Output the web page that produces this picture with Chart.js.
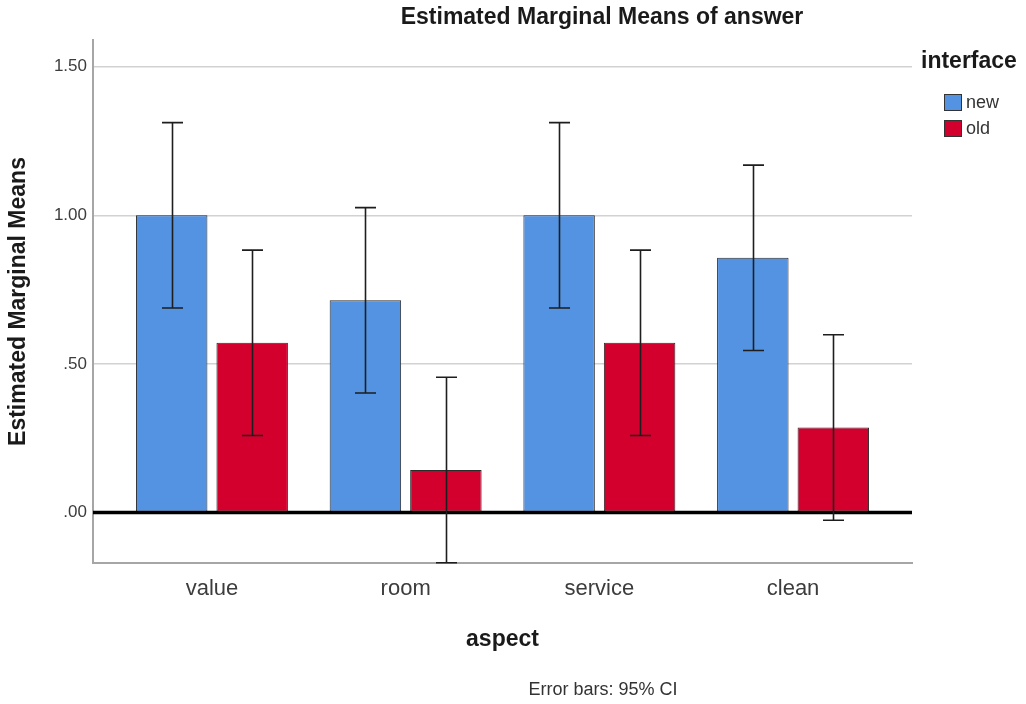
<!DOCTYPE html>
<html>
<head>
<meta charset="utf-8">
<script src="https://cdn.jsdelivr.net/npm/chart.js@4/dist/chart.umd.min.js"></script>
<style>
  html, body { margin: 0; padding: 0; background: #ffffff; }
  #wrap { position: relative; width: 1026px; height: 704px; }
</style>
</head>
<body>
<div id="wrap"><canvas id="chart" width="1026" height="704"></canvas></div>
<script>
// Estimated marginal means of "answer" by aspect and interface, with 95% CIs
const categories = ['value', 'room', 'service', 'clean'];
const seriesNames = ['new', 'old'];
const newMeans = [1.000, 0.714, 1.000, 0.857];
const oldMeans = [0.571, 0.143, 0.571, 0.286];
const newLower = [0.688, 0.402, 0.688, 0.545];
const newUpper = [1.312, 1.026, 1.312, 1.169];
const oldLower = [0.259, -0.169, 0.259, -0.026];
const oldUpper = [0.883, 0.455, 0.883, 0.598];
const yTickValues = [0, 0.5, 1.0, 1.5];

const FONT = '"Liberation Sans", Arial, Helvetica, sans-serif';
const BLUE = '#5393e2';
const RED = '#d3002e';

const toPoints = arr => arr.map((v, i) => ({ x: i, y: v }));
const fmtTick = v => {
  const s = Number(v).toFixed(2);
  return s.startsWith('0') ? s.slice(1) : s;
};

// zero line and confidence-interval whiskers drawn over the bars
const errorBars = {
  id: 'errorBars',
  afterDatasetsDraw(chart) {
    const ctx = chart.ctx;
    const ys = chart.scales.y;
    const area = chart.chartArea;
    ctx.save();
    const y0 = ys.getPixelForValue(0);
    ctx.strokeStyle = '#000000';
    ctx.lineWidth = 3.5;
    ctx.beginPath();
    ctx.moveTo(area.left, y0);
    ctx.lineTo(area.right, y0);
    ctx.stroke();

    const bounds = [[newLower, newUpper], [oldLower, oldUpper]];
    ctx.strokeStyle = '#1e1e1e';
    ctx.lineWidth = 1.6;
    bounds.forEach(([lo, hi], di) => {
      chart.getDatasetMeta(di).data.forEach((bar, i) => {
        const x = Math.round(bar.x) + 0.5;
        const yl = ys.getPixelForValue(lo[i]);
        const yh = ys.getPixelForValue(hi[i]);
        const cap = 10.5;
        ctx.beginPath();
        ctx.moveTo(x, yl); ctx.lineTo(x, yh);
        ctx.moveTo(x - cap, yh); ctx.lineTo(x + cap, yh);
        ctx.moveTo(x - cap, yl); ctx.lineTo(x + cap, yl);
        ctx.stroke();
      });
    });
    ctx.restore();
  }
};

// heading, legend and footnote
const annotations = {
  id: 'annotations',
  afterDraw(chart) {
    const ctx = chart.ctx;
    ctx.save();
    ctx.fillStyle = '#1a1a1a';
    ctx.textBaseline = 'middle';
    ctx.textAlign = 'center';
    ctx.font = 'bold 23px ' + FONT;
    ctx.fillText('Estimated Marginal Means of answer', 602, 18);

    ctx.font = '18px ' + FONT;
    ctx.fillStyle = '#333333';
    ctx.fillText('Error bars: 95% CI', 603, 690);

    ctx.textAlign = 'left';
    ctx.fillStyle = '#1a1a1a';
    ctx.font = 'bold 23px ' + FONT;
    ctx.fillText('interface', 921, 62);

    const colors = [BLUE, RED];
    const boxY = [94, 120];
    seriesNames.forEach((name, i) => {
      ctx.fillStyle = colors[i];
      ctx.fillRect(944, boxY[i], 18, 17);
      ctx.strokeStyle = '#333333';
      ctx.lineWidth = 1;
      ctx.strokeRect(944.5, boxY[i] + 0.5, 17, 16);
      ctx.fillStyle = '#333333';
      ctx.font = '18px ' + FONT;
      ctx.fillText(name, 966, boxY[i] + 9);
    });
    ctx.restore();
  }
};

new Chart(document.getElementById('chart'), {
  type: 'bar',
  data: {
    datasets: [
      {
        label: seriesNames[0],
        data: toPoints(newMeans),
        backgroundColor: BLUE,
        borderColor: '#2b2b2b',
        borderWidth: 1,
        borderSkipped: false
      },
      {
        label: seriesNames[1],
        data: toPoints(oldMeans),
        backgroundColor: RED,
        borderColor: '#2b2b2b',
        borderWidth: 1,
        borderSkipped: false
      }
    ]
  },
  options: {
    responsive: false,
    animation: false,
    devicePixelRatio: 1,
    categoryPercentage: 0.831,
    barPercentage: 0.888,
    layout: { padding: { left: 0, right: 114, top: 40, bottom: 0 } },
    plugins: {
      legend: { display: false },
      title: { display: false },
      tooltip: { enabled: false }
    },
    scales: {
      x: {
        type: 'linear',
        min: -0.614,
        max: 3.614,
        offset: false,
        afterBuildTicks: s => { s.ticks = categories.map((_, i) => ({ value: i })); },
        afterFit: s => { s.height = 141; },
        grid: { display: false, drawTicks: false, offset: false },
        border: { display: true, color: '#a6a6a6', width: 2 },
        ticks: {
          autoSkip: false,
          maxRotation: 0,
          padding: 13,
          color: '#3c3c3c',
          font: { family: FONT, size: 22 },
          callback: v => categories[v] ?? ''
        },
        title: {
          display: true,
          text: 'aspect',
          color: '#1a1a1a',
          font: { family: FONT, size: 23, weight: 'bold' },
          padding: { top: 0, bottom: 51 }
        }
      },
      y: {
        min: -0.17,
        max: 1.59,
        afterBuildTicks: s => { s.ticks = yTickValues.map(v => ({ value: v })); },
        afterFit: s => { s.width = 93; },
        grid: {
          drawTicks: false,
          color: '#d2d2d2',
          lineWidth: 1.5
        },
        border: { display: true, color: '#a6a6a6', width: 2 },
        ticks: {
          padding: 6,
          color: '#3c3c3c',
          font: { family: FONT, size: 17 },
          callback: v => fmtTick(v)
        },
        title: {
          display: true,
          text: 'Estimated Marginal Means',
          color: '#1a1a1a',
          font: { family: FONT, size: 23, weight: 'bold' },
          padding: { top: 5, bottom: 0 }
        }
      }
    }
  },
  plugins: [errorBars, annotations]
});
</script>
</body>
</html>
